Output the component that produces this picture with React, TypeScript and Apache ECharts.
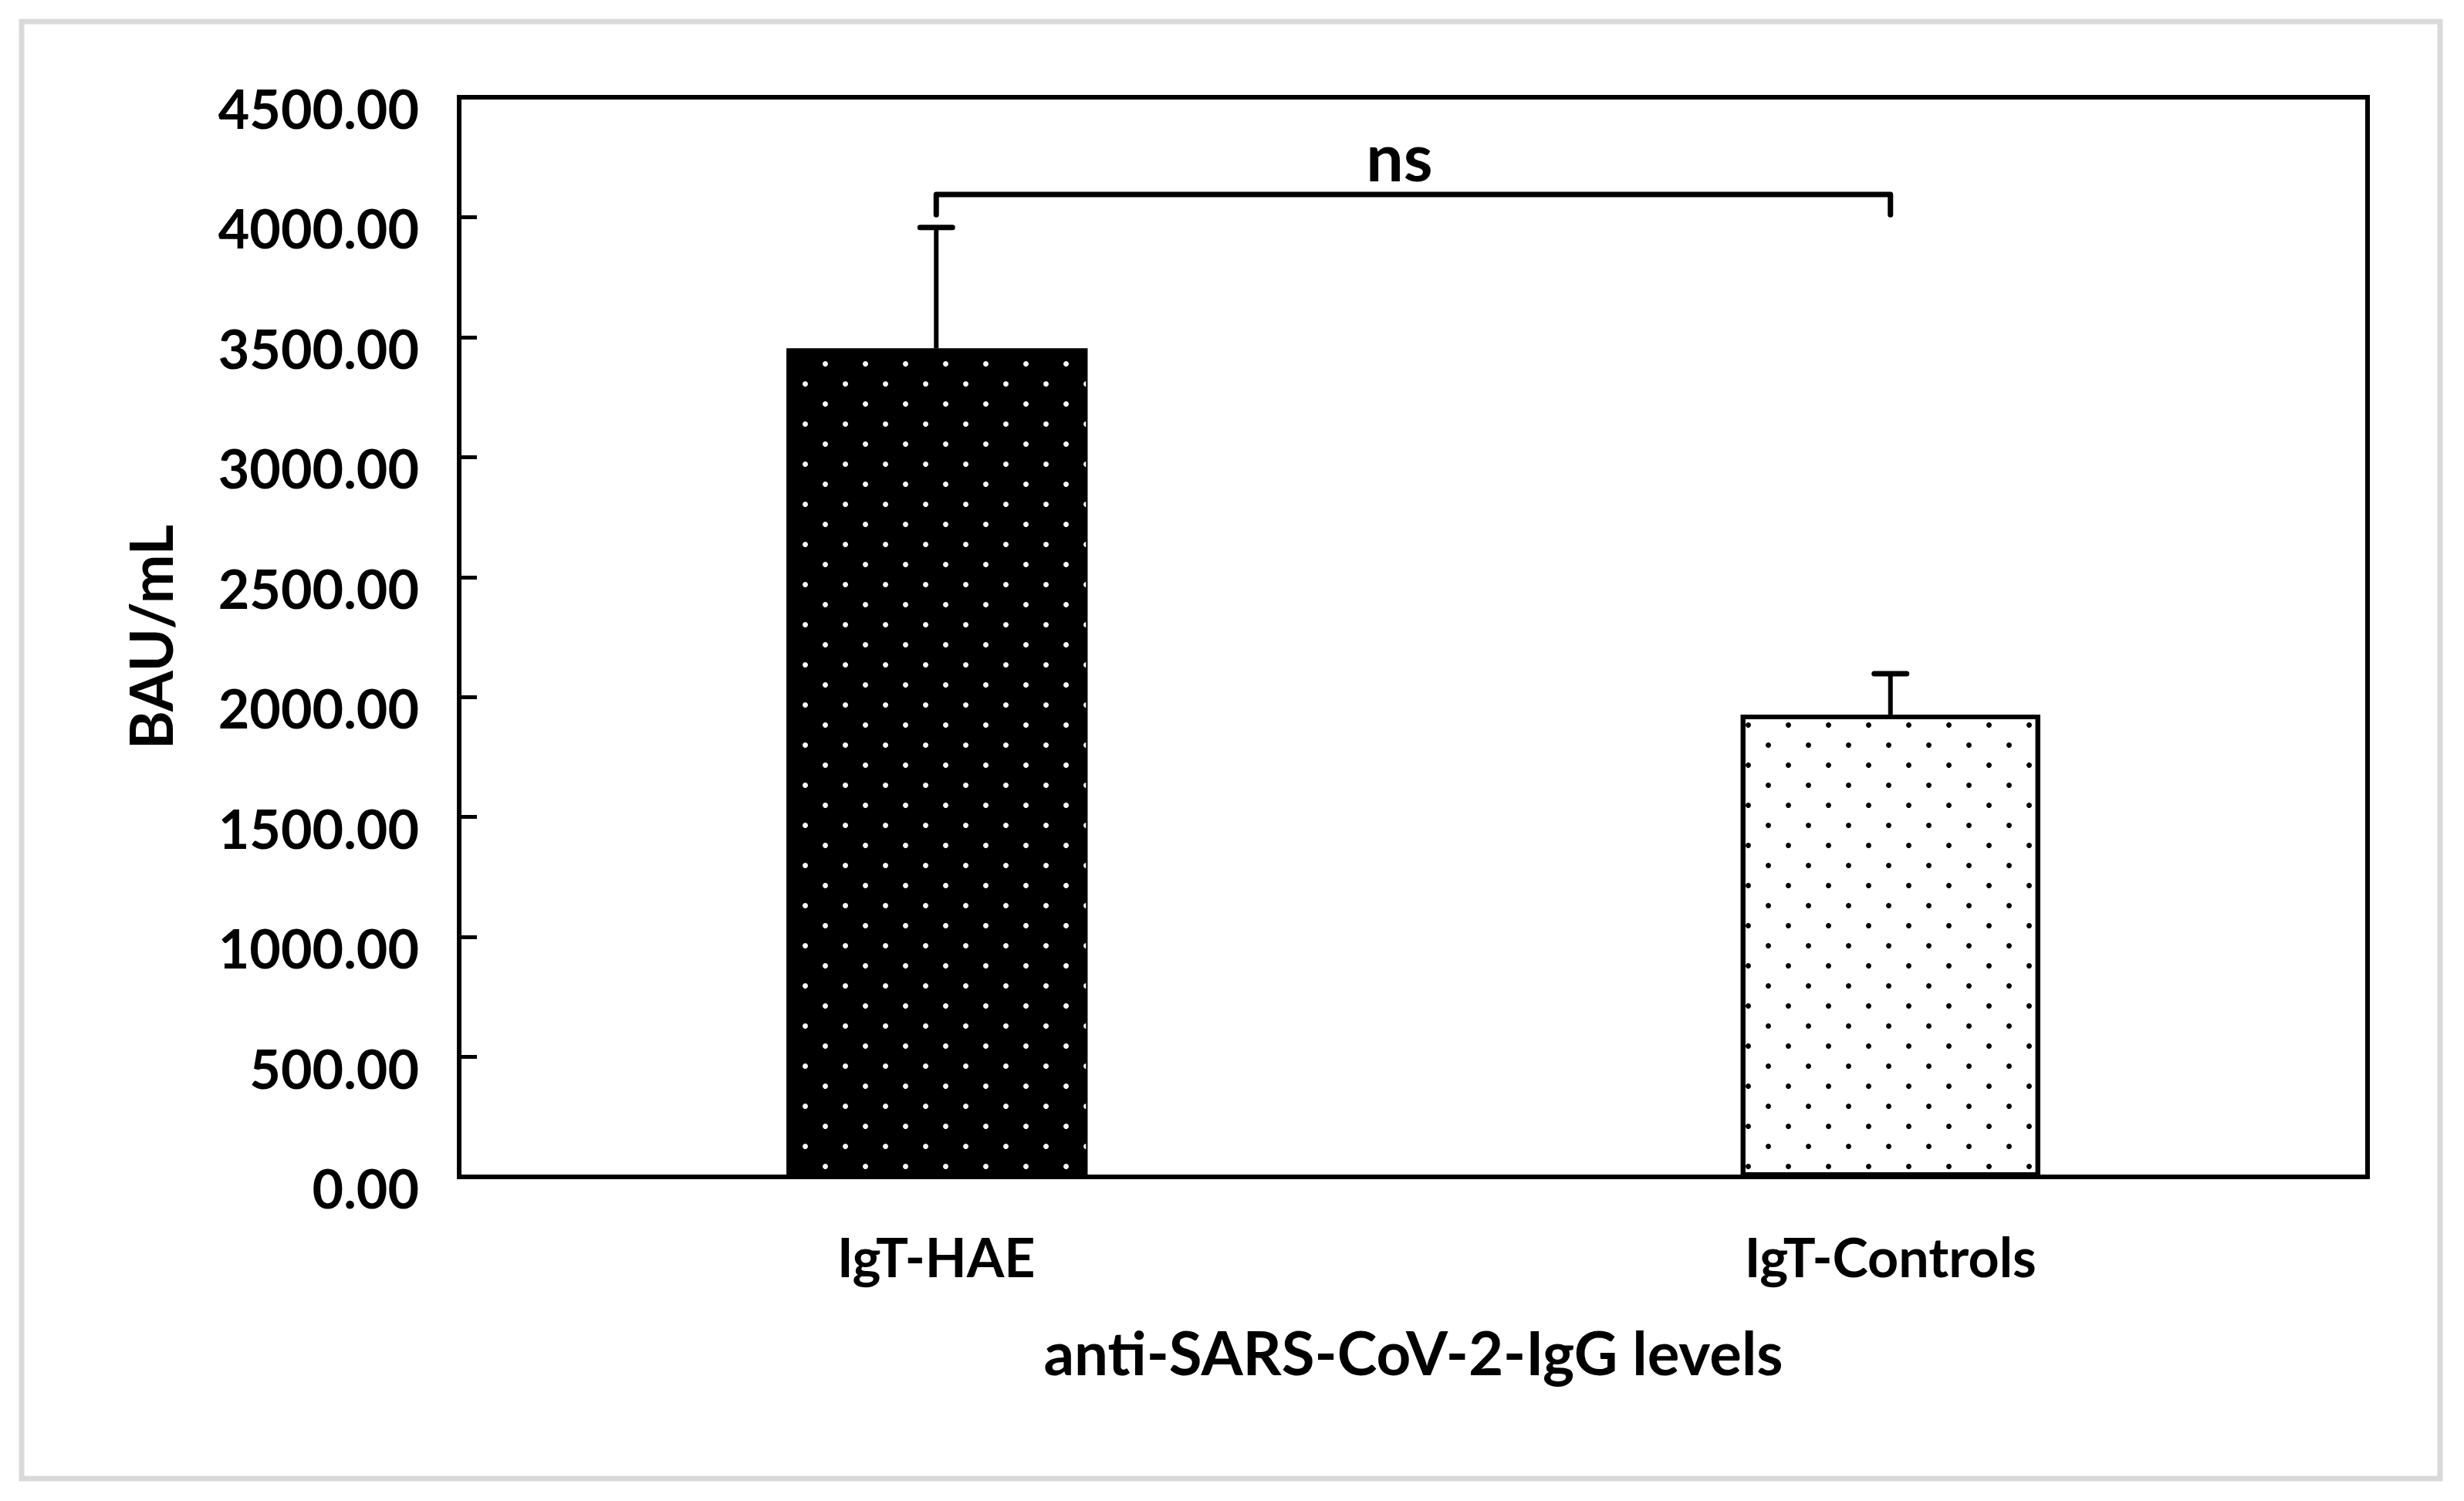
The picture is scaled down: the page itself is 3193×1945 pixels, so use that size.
import React, { useEffect, useRef } from 'react';
import * as echarts from 'echarts';

// ---- data ----
const categories = ['IgT-HAE', 'IgT-Controls'];
const meanValues = [3453, 1927];
const sdValues = [504, 170];
const yMin = 0;
const yMax = 4500;
const yInterval = 500;
const bracketGroups = [0, 1];
const bracketTopValue = 4095;
const bracketLegEndValue = 4010;
const bracketLabelValue = 4256;
const bracketLabel = 'ns';
const xAxisTitle = 'anti-SARS-CoV-2-IgG levels';
const yAxisTitle = 'BAU/mL';

const FONT = 'Lato, "Liberation Sans", Arial, sans-serif';

export default function App() {
  const ref = useRef<HTMLDivElement>(null);

  useEffect(() => {
    if (!ref.current) return;
    const chart = echarts.init(ref.current, undefined, { renderer: 'svg' });

    const errorData = categories.map((_, i) => [i, meanValues[i], meanValues[i] + sdValues[i]]);
    const bracketData = [[bracketGroups[0], bracketGroups[1], bracketTopValue, bracketLegEndValue, bracketLabelValue]];

    const dotDecal = (color: string) => ({
      symbol: 'circle',
      symbolSize: 1,
      color,
      dashArrayX: [[7, 45], [0, 26, 7, 19]],
      dashArrayY: [7, 19],
    });

    const option: any = {
      animation: false,
      backgroundColor: '#ffffff',
      textStyle: { fontFamily: FONT },
      graphic: [
        {
          type: 'rect',
          shape: { x: 28, y: 28, width: 3134, height: 1888 },
          style: { fill: 'none', stroke: '#d9d9d9', lineWidth: 7 },
          z: -10,
          silent: true,
        },
      ],
      grid: {
        left: 595,
        right: 125,
        top: 126,
        bottom: 420,
        show: true,
        borderColor: '#000000',
        borderWidth: 6,
        backgroundColor: 'transparent',
        containLabel: false,
        outerBoundsMode: 'none',
      },
      xAxis: {
        type: 'category',
        data: categories,
        axisLine: { show: true, lineStyle: { color: '#000', width: 6 } },
        axisTick: { show: false },
        splitLine: { show: false },
        axisLabel: {
          margin: 68,
          fontSize: 70,
          fontWeight: 'bold',
          fontFamily: FONT,
          color: '#000',
        },
        name: xAxisTitle,
        nameLocation: 'middle',
        nameGap: 188,
        nameTextStyle: { fontSize: 78, fontWeight: 'bold', fontFamily: FONT, color: '#000' },
      },
      yAxis: {
        type: 'value',
        min: yMin,
        max: yMax,
        interval: yInterval,
        axisLine: { show: true, lineStyle: { color: '#000', width: 6 } },
        axisTick: { show: true, inside: true, length: 23, lineStyle: { color: '#000', width: 5 } },
        splitLine: { show: false },
        axisLabel: {
          formatter: (v: number) => v.toFixed(2),
          margin: 52,
          fontSize: 70,
          fontWeight: 'bold',
          fontFamily: FONT,
          color: '#000',
          verticalAlign: 'top',
          lineHeight: 28,
        },
        name: yAxisTitle,
        nameLocation: 'middle',
        nameRotate: 90,
        nameGap: 363,
        nameTextStyle: { fontSize: 76, fontWeight: 'bold', fontFamily: FONT, color: '#000' },
      },
      series: [
        {
          type: 'bar',
          name: categories[0],
          data: [meanValues[0], '-'],
          barWidth: 390,
          barGap: '-100%',
          itemStyle: {
            color: '#000000',
            borderColor: '#000000',
            borderWidth: 2,
            decal: dotDecal('#ffffff'),
          },
          z: 2,
        },
        {
          type: 'bar',
          name: categories[1],
          data: ['-', meanValues[1]],
          barWidth: 388,
          barGap: '-100%',
          itemStyle: {
            color: '#ffffff',
            borderColor: '#000000',
            borderWidth: 6,
            decal: dotDecal('#000000'),
          },
          z: 2,
        },
        {
          type: 'custom',
          name: 'error',
          data: errorData,
          encode: { x: 0, y: [1, 2] },
          z: 3,
          renderItem: (params: any, api: any) => {
            const x = api.value(0);
            const lo = api.coord([x, api.value(1)]);
            const hi = api.coord([x, api.value(2)]);
            const half = 21;
            return {
              type: 'group',
              children: [
                {
                  type: 'line',
                  shape: { x1: lo[0], y1: lo[1], x2: hi[0], y2: hi[1] },
                  style: { stroke: '#000', lineWidth: 6 },
                },
                {
                  type: 'line',
                  shape: { x1: hi[0] - half, y1: hi[1], x2: hi[0] + half, y2: hi[1] },
                  style: { stroke: '#000', lineWidth: 7, lineCap: 'round' },
                },
              ],
            };
          },
        },
        {
          type: 'custom',
          name: 'bracket',
          data: bracketData,
          encode: { x: [0, 1], y: [2, 3, 4] },
          z: 3,
          renderItem: (params: any, api: any) => {
            const a = api.value(0);
            const b = api.value(1);
            const aTop = api.coord([a, api.value(2)]);
            const bTop = api.coord([b, api.value(2)]);
            const aBot = api.coord([a, api.value(3)]);
            const bBot = api.coord([b, api.value(3)]);
            const lab = api.coord([a, api.value(4)]);
            const midX = (aTop[0] + bTop[0]) / 2 - 18;
            return {
              type: 'group',
              children: [
                {
                  type: 'polyline',
                  shape: {
                    points: [
                      [aBot[0], aBot[1]],
                      [aTop[0], aTop[1]],
                      [bTop[0], bTop[1]],
                      [bBot[0], bBot[1]],
                    ],
                  },
                  style: { stroke: '#000', lineWidth: 7, fill: 'none', lineJoin: 'round', lineCap: 'round' },
                },
                {
                  type: 'text',
                  x: midX,
                  y: lab[1],
                  style: {
                    text: bracketLabel,
                    align: 'center',
                    verticalAlign: 'middle',
                    fontSize: 86,
                    fontWeight: 'bold',
                    fontFamily: FONT,
                    fill: '#000',
                  },
                },
              ],
            };
          },
        },
      ],
    };

    chart.setOption(option);
    return () => {
      chart.dispose();
    };
  }, []);

  return (
    <div
      ref={ref}
      style={{ position: 'fixed', left: 0, top: 0, width: 3193, height: 1945, background: '#fff' }}
    />
  );
}
